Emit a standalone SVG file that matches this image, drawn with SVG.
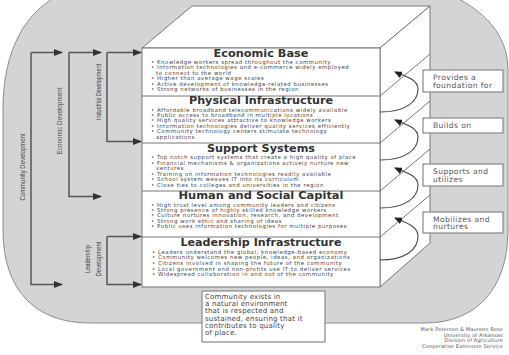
<svg xmlns="http://www.w3.org/2000/svg" width="509" height="355" viewBox="0 0 509 355">
<style>
.bg{fill:#d4d4d4;stroke:#8c8c8c;stroke-width:1}
.face{fill:#fff;stroke:#777;stroke-width:1}
.sep{stroke:#777;stroke-width:1;fill:none}
.title{font-family:"DejaVu Sans",sans-serif;font-weight:bold;font-size:10.6px;fill:#333;text-anchor:middle}
.b{font-family:"DejaVu Sans",sans-serif;font-size:5.4px;fill:#444;letter-spacing:0.55px}
.rail{fill:none;stroke:#555;stroke-width:1.5}
.curve{fill:none;stroke:#444;stroke-width:1.1}
.lbl{fill:#fff;stroke:#888;stroke-width:1.2}
.lt{font-family:"DejaVu Sans",sans-serif;font-size:7.6px;fill:#555;letter-spacing:0.4px}
.rot{font-family:"Liberation Sans",sans-serif;font-size:6.5px;fill:#444;text-anchor:middle}
.bt{font-family:"DejaVu Sans",sans-serif;font-size:7px;fill:#444;letter-spacing:0.2px}
.cr{font-family:"DejaVu Sans",sans-serif;font-size:5px;fill:#555;text-anchor:end;letter-spacing:0.15px}
</style>
<defs>
<marker id="ah" markerUnits="userSpaceOnUse" markerWidth="9" markerHeight="7" refX="8" refY="3.5" orient="auto"><path d="M0,0 L9,3.5 L0,7 z" fill="#333"/></marker>
<marker id="ah2" markerUnits="userSpaceOnUse" markerWidth="8" markerHeight="7" refX="7" refY="3.5" orient="auto"><path d="M0,0 L8,3.5 L0,7 z" fill="#222"/></marker>
</defs>
<g id="background">
<path class="bg" d="M3,230 L3,110 C3,50 25,10 65,-8 L445,-8 C485,10 508,35 508,70 L508,230 C508,290 475,323 425,323 L90,323 C35,323 3,290 3,230 Z"/>
</g>
<g id="cube">
<polygon class="face" points="142,48 192,6 430,6 380,48"/>
<polygon class="face" points="380,48 430,6 430,243 380,287"/>
<rect class="face" x="142" y="48" width="238" height="239"/>
<path class="sep" d="M142,96 L380,96 L430,54 M142,143 L380,143 L430,101 M142,191 L380,191 L430,149 M142,237 L380,237 L430,195"/>
</g>
<g id="economic-base">
<text class="title" x="261" y="57" textLength="95" lengthAdjust="spacingAndGlyphs">Economic Base</text>
<text class="b" x="151" y="64">• Knowledge workers spread throughout the community</text>
<text class="b" x="151" y="69.4">• Information technologies and e-commerce widely employed</text>
<text class="b" x="156" y="74.8">to connect to the world</text>
<text class="b" x="151" y="80.2">• Higher than average wage scales</text>
<text class="b" x="151" y="85.6">• Active development of knowledge-related businesses</text>
<text class="b" x="151" y="91">• Strong networks of businesses in the region</text>
</g>
<g id="physical-infrastructure">
<text class="title" x="261" y="104" textLength="144" lengthAdjust="spacingAndGlyphs">Physical Infrastructure</text>
<text class="b" x="151" y="111.6">• Affordable broadband telecommunications widely available</text>
<text class="b" x="151" y="117">• Public access to broadband in multiple locations</text>
<text class="b" x="151" y="122.4">• High quality services attractive to knowledge workers</text>
<text class="b" x="151" y="127.8">• Information technologies deliver quality services efficiently</text>
<text class="b" x="151" y="133.2">• Community technology centers stimulate technology</text>
<text class="b" x="156" y="138.6">applications</text>
</g>
<g id="support-systems">
<text class="title" x="261" y="152" textLength="108" lengthAdjust="spacingAndGlyphs">Support Systems</text>
<text class="b" x="151" y="159.4">• Top notch support systems that create a high quality of place</text>
<text class="b" x="151" y="164.8">• Financial mechanisms &amp; organizations actively nurture new</text>
<text class="b" x="156" y="170.2">ventures</text>
<text class="b" x="151" y="175.6">• Training on information technologies readily available</text>
<text class="b" x="151" y="181">• School system weaves IT into its curriculum</text>
<text class="b" x="151" y="186.5">• Close ties to colleges and universities in the region</text>
</g>
<g id="human-social-capital">
<text class="title" x="261" y="199" textLength="165" lengthAdjust="spacingAndGlyphs">Human and Social Capital</text>
<text class="b" x="151" y="206.6">• High trust level among community leaders and citizens</text>
<text class="b" x="151" y="212">• Strong presence of highly skilled knowledge workers</text>
<text class="b" x="151" y="217.4">• Culture nurtures innovation, research, and development</text>
<text class="b" x="151" y="222.8">• Strong work ethic and sharing of ideas</text>
<text class="b" x="151" y="228.3">• Public uses information technologies for multiple purposes</text>
</g>
<g id="leadership-infrastructure">
<text class="title" x="261" y="246" textLength="161" lengthAdjust="spacingAndGlyphs">Leadership Infrastructure</text>
<text class="b" x="152" y="253.6">• Leaders understand the global, knowledge-based economy</text>
<text class="b" x="152" y="259.3">• Community welcomes new people, ideas, and organizations</text>
<text class="b" x="152" y="265">• Citizens involved in shaping the future of the community</text>
<text class="b" x="152" y="270.7">• Local government and non-profits use IT to deliver services</text>
<text class="b" x="152" y="276.4">• Widespread collaboration in and out of the community</text>
</g>
<g id="connectors">
<path class="rail" marker-end="url(#ah)" d="M31,52.5 L62,52.5"/>
<path class="rail" marker-end="url(#ah)" d="M31,52.5 L31,284.5 L62,284.5"/>
<path class="rail" marker-end="url(#ah)" d="M69,52.5 L101,52.5"/>
<path class="rail" marker-end="url(#ah)" d="M69,52.5 L69,196.5 L101,196.5"/>
<path class="rail" marker-end="url(#ah)" d="M107,52.5 L141,52.5"/>
<path class="rail" marker-end="url(#ah)" d="M107,52.5 L107,141.5 L141,141.5"/>
<path class="rail" marker-end="url(#ah)" d="M107,236.5 L141,236.5"/>
<path class="rail" marker-end="url(#ah)" d="M107,236.5 L107,284.5 L141,284.5"/>
<path class="curve" marker-end="url(#ah2)" d="M380,112 C405,112 418,102 418,89 C418,79 404,76 395,72"/>
<path class="curve" marker-end="url(#ah2)" d="M380,160 C405,160 418,150 418,137 C418,127 404,124 395,120"/>
<path class="curve" marker-end="url(#ah2)" d="M380,208 C405,208 418,198 418,185 C418,175 404,172 395,168"/>
<path class="curve" marker-end="url(#ah2)" d="M380,260 C405,260 418,250 418,236 C418,226 404,222 395,218"/>
</g>
<g id="side-labels">
<text class="rot" transform="translate(24.5,167) rotate(-90)" textLength="67" lengthAdjust="spacingAndGlyphs">Community Development</text>
<text class="rot" transform="translate(61.5,121) rotate(-90)" textLength="67" lengthAdjust="spacingAndGlyphs">Economic Development</text>
<text class="rot" transform="translate(100.5,92) rotate(-90)" textLength="56" lengthAdjust="spacingAndGlyphs">Industrial Development</text>
<text class="rot" transform="translate(89.5,259) rotate(-90)" textLength="28" lengthAdjust="spacingAndGlyphs">Leadership</text>
<text class="rot" transform="translate(100.5,259) rotate(-90)" textLength="35" lengthAdjust="spacingAndGlyphs">Development</text>
</g>
<g id="label-provides">
<rect class="lbl" x="423" y="70" width="80" height="22"/>
<text class="lt" x="433" y="80">Provides a</text>
<text class="lt" x="433" y="88">foundation for</text>
</g>
<g id="label-builds">
<rect class="lbl" x="423" y="118" width="80" height="15"/>
<text class="lt" x="433" y="128">Builds on</text>
</g>
<g id="label-supports">
<rect class="lbl" x="423" y="164" width="80" height="22"/>
<text class="lt" x="433" y="174">Supports and</text>
<text class="lt" x="433" y="182">utilizes</text>
</g>
<g id="label-mobilizes">
<rect class="lbl" x="423" y="212" width="80" height="21"/>
<text class="lt" x="433" y="221.5">Mobilizes and</text>
<text class="lt" x="433" y="229">nurtures</text>
</g>
<g id="environment-note">
<rect class="lbl" x="202" y="291" width="123" height="51"/>
<text class="bt" x="205" y="299">Community exists in</text>
<text class="bt" x="205" y="306.2">a natural environment</text>
<text class="bt" x="205" y="313.4">that is respected and</text>
<text class="bt" x="205" y="320.6">sustained, ensuring that it</text>
<text class="bt" x="205" y="327.8">contributes to quality</text>
<text class="bt" x="205" y="335">of place.</text>
</g>
<g id="credits">
<text class="cr" x="503" y="331">Mark Peterson &amp; Maureen Rose</text>
<text class="cr" x="503" y="336.5">University of Arkansas</text>
<text class="cr" x="503" y="342">Division of Agriculture</text>
<text class="cr" x="503" y="347.5">Cooperative Extension Service</text>
</g>
</svg>
